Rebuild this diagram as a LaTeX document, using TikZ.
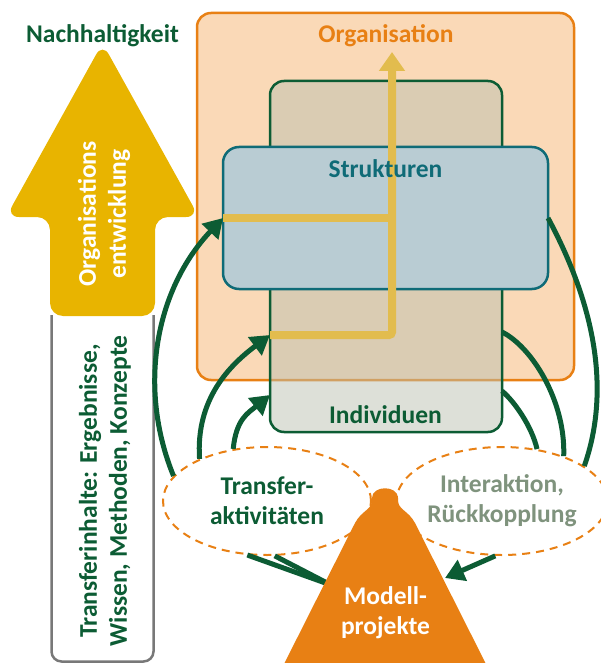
\documentclass[tikz,border=0pt]{standalone}
\usepackage{fontspec}
\setmainfont{Carlito}
\usetikzlibrary{arrows.meta,shapes.geometric,calc}
\definecolor{dgreen}{RGB}{12,92,52}
\definecolor{ylw}{RGB}{232,180,0}
\definecolor{ylwline}{RGB}{226,188,78}
\definecolor{orng}{RGB}{232,128,20}
\definecolor{orngfill}{RGB}{250,217,183}
\definecolor{teal}{RGB}{15,107,119}
\definecolor{strfill}{RGB}{185,204,211}
\definecolor{indfill}{RGB}{187,193,177}
\definecolor{ggreen}{RGB}{127,147,125}
\definecolor{grayline}{RGB}{120,120,120}
\begin{document}
\begin{tikzpicture}[x=1pt,y=-1pt,
  lbl/.style={font=\fontsize{25.5}{30}\selectfont\bfseries, inner sep=0pt},
  box/.style={rectangle, rounded corners=14pt, line width=2.5pt, outer sep=0pt},
  gline/.style={draw=dgreen, line width=5pt},
  gArrow/.style={-{Triangle[length=19pt,width=22pt]}},
  yline/.style={draw=ylwline, line width=8pt},
  dashell/.style={ellipse, draw=orng, line width=2pt, dash pattern=on 8pt off 6pt,
     fill=white, minimum width=208pt, minimum height=108pt, inner sep=0pt,
     align=center, font=\fontsize{25.5}{30}\selectfont\bfseries}
]
\useasboundingbox (0,0) rectangle (601,663);

% --- left: Nachhaltigkeit arrow
\node[lbl, text=dgreen, anchor=base] (nach) at (102.5,43) {Nachhaltigkeit};
\fill[ylw, rounded corners=13pt] (50,316) -- (50,217) -- (6,217) -- (102.5,43) -- (199,217) -- (155,217) -- (155,316) -- cycle;
\draw[grayline, line width=2.5pt, rounded corners=10pt] (51.5,315) -- (51.5,661.5) -- (153.5,661.5) -- (153.5,315);
\node[lbl, text=white, rotate=90, align=center] (oe) at (104,214) {Organisations\\entwicklung};
\node[lbl, text=dgreen, rotate=90, align=center] (ti) at (105,491) {Transferinhalte: Ergebnisse,\\Wissen, Methoden, Konzepte};

% --- boxes
\node[box, draw=orng, fill=orngfill, minimum width=377pt, minimum height=367pt] (org) at (385.5,196.5) {};
\node[box, draw=dgreen, fill=indfill, fill opacity=0.5, minimum width=232pt, minimum height=351pt] (indiv) at (386,256.5) {};
\node[box, draw=teal, fill=strfill, minimum width=325pt, minimum height=142pt, rounded corners=16pt] (strukt) at (385.5,218) {};

% --- yellow lines
\coordinate (ytop) at (392,52);
\coordinate (yjoin) at (392,218);
\coordinate (ycorner) at (392,335);
\draw[yline] (strukt.west) -- (yjoin);
\draw[yline, rounded corners=3pt, -{Triangle[length=19pt,width=25pt]}] (indiv.west |- ycorner) -- (ycorner) -- (ytop);

% --- labels of boxes
\node[lbl, text=orng, anchor=base] (orgl) at (386,43) {Organisation};
\node[lbl, text=teal, anchor=base] (strl) at (385.5,178) {Strukturen};
\node[lbl, text=dgreen, anchor=base] (indl) at (385.5,423) {Individuen};

% --- ellipses
\node[dashell, text=dgreen] (lel) at (267,501) {Transfer-\\aktivitäten};
\node[dashell, text=ggreen] (rel) at (502,501) {Interaktion,\\Rückkopplung};

% --- green curves, left (with arrows)
\draw[gline, gArrow] (lel.165) .. controls +(-36,-88) and +(-68,72) .. (strukt.west);
\draw[gline, gArrow] (lel.148) .. controls +(-4,-60) and +(-40,30) .. (indiv.west |- ycorner);
\draw[gline, gArrow] (lel.123) .. controls +(3,-30) and +(-22,18) .. (indiv.west |- 0,395);

% --- green curves, right
\draw[gline] (strukt.east) .. controls +(44,82) and +(28,-80) .. (rel.23);
\draw[gline] (indiv.east |- 0,332) .. controls +(30,15) and +(2,-55) .. (rel.36);
\draw[gline] (indiv.east |- 0,391) .. controls +(13,11) and +(-5,-22) .. (rel.56);

% --- bottom arrows into Modellprojekte
\coordinate (mpL) at (331,585);
\coordinate (mpR) at (445,578);
\draw[gline] (lel.250) -- (mpL);
\draw[gline] (lel.278) -- (mpL);

% --- Modellprojekte shape
\fill[orng] (280,672) -- (355,523) .. controls (362,510) and (372,510) .. (372,500)
  -- (372,498) .. controls (372,485) and (398,485) .. (398,498)
  -- (398,500) .. controls (398,510) and (408,510) .. (415,523) -- (490,672) -- cycle;
\node[lbl, text=white, align=center] (mp) at (385.5,613) {Modell-\\projekte};

\draw[gline, gArrow] (rel.263) -- (mpR);
\end{tikzpicture}
\end{document}
